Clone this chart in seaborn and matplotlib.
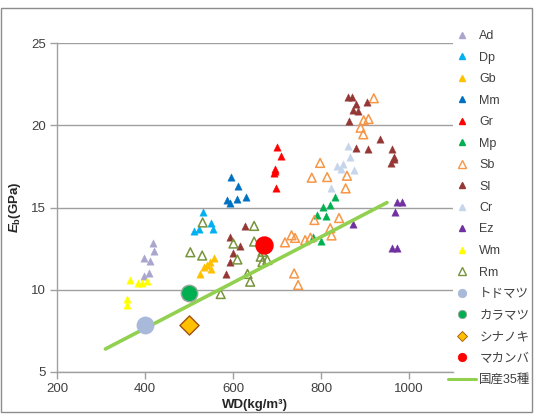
import matplotlib
matplotlib.use("Agg")
import matplotlib.pyplot as plt
import seaborn as sns
import pandas as pd
from matplotlib.lines import Line2D
from matplotlib.patches import Rectangle

# ---------------- data ----------------
ad_x = [418, 420, 398, 412, 408, 398]
ad_y = [12.84, 12.36, 11.93, 11.75, 11.02, 10.84]
dp_x = [531, 549, 554, 522, 512]
dp_y = [14.73, 14.06, 13.69, 13.69, 13.57]
gb_x = [556, 547, 540, 535, 551, 524]
gb_y = [11.93, 11.69, 11.50, 11.38, 11.26, 10.96]
mm_x = [596, 611, 630, 608, 587, 593]
mm_y = [16.84, 16.33, 15.64, 15.50, 15.44, 15.26]
gr_x = [701, 709, 696, 695, 693, 697]
gr_y = [18.66, 18.13, 17.34, 17.19, 17.08, 16.16]
mp_x = [832, 821, 804, 792, 812, 782, 801]
mp_y = [15.61, 15.15, 15.05, 14.57, 14.48, 13.21, 12.98]
sb_x = [920, 908, 897, 890, 896, 798, 779, 814, 859, 856, 841, 785, 821,
        824, 776, 764, 733, 741, 718, 739, 748]
sb_y = [21.64, 20.38, 20.30, 19.85, 19.45, 17.71, 16.81, 16.85, 16.93, 16.16,
        14.36, 14.24, 13.74, 13.30, 13.16, 13.02, 13.31, 13.15, 12.88, 10.99, 10.29]
sl_x = [861, 871, 880, 904, 873, 884, 863, 934, 880, 906, 961, 967, 966, 958,
        627, 593, 617, 600, 593, 585]
sl_y = [21.69, 21.72, 21.29, 21.41, 20.93, 20.87, 20.26, 19.16, 18.64, 18.56,
        18.54, 18.09, 17.95, 17.69, 13.88, 13.22, 12.66, 12.25, 11.69, 10.96]
cr_x = [861, 866, 849, 836, 846, 874, 823]
cr_y = [18.76, 18.07, 17.64, 17.52, 17.37, 17.28, 16.16]
ez_x = [973, 985, 969, 872, 961, 973]
ez_y = [15.32, 15.32, 14.73, 13.98, 12.54, 12.54]
wm_x = [365, 385, 393, 405, 359, 360]
wm_y = [10.59, 10.43, 10.44, 10.51, 9.42, 9.07]
rm_x = [531, 503, 530, 601, 648, 648, 610, 667, 663, 678, 667, 633, 639, 572]
rm_y = [14.09, 12.28, 12.08, 12.81, 13.88, 12.93, 11.84, 12.31, 12.01, 11.81,
        11.69, 10.96, 10.49, 9.74]

todomatsu = (400, 7.86)
karamatsu = (500, 9.80)
shinanoki = (500, 7.86)
makanba = (670, 12.72)

line_x = [310, 950]
line_y = [6.4, 15.3]

x_ticks = [200, 400, 600, 800, 1000]
y_ticks = [5, 10, 15, 20, 25]

# ---------------- style ----------------
sns.set_theme(style="white")
plt.rcParams["font.family"] = ["Liberation Sans", "Noto Sans CJK JP", "DejaVu Sans"]
plt.rcParams["mathtext.fontset"] = "custom"
plt.rcParams["mathtext.it"] = "Liberation Sans:italic:bold"
plt.rcParams["mathtext.rm"] = "Liberation Sans:bold"
plt.rcParams["mathtext.bf"] = "Liberation Sans:bold"

fig = plt.figure(figsize=(5.38, 4.17), dpi=100)
ax = fig.add_axes([57 / 538, 1 - 372 / 417, (453 - 57) / 538, (372 - 43) / 417])

tri_series = [
    ("Ad", ad_x, ad_y, "#A9A5CF", True),
    ("Dp", dp_x, dp_y, "#00B0F0", True),
    ("Gb", gb_x, gb_y, "#FFC000", True),
    ("Mm", mm_x, mm_y, "#0070C0", True),
    ("Gr", gr_x, gr_y, "#FF0000", True),
    ("Mp", mp_x, mp_y, "#00B050", True),
    ("Sb", sb_x, sb_y, "#F79646", False),
    ("Sl", sl_x, sl_y, "#953735", True),
    ("Cr", cr_x, cr_y, "#C5D5EC", True),
    ("Ez", ez_x, ez_y, "#7030A0", True),
    ("Wm", wm_x, wm_y, "#FFFF00", True),
    ("Rm", rm_x, rm_y, "#77933C", False),
]

for name, xs, ys, col, filled in tri_series:
    df = pd.DataFrame({"x": xs, "y": ys})
    if filled:
        sns.scatterplot(data=df, x="x", y="y", ax=ax, marker="^", s=28,
                        color=col, edgecolor=col, linewidth=0.3, zorder=3)
    else:
        sns.scatterplot(data=df, x="x", y="y", ax=ax, marker="^", s=40,
                        color=col, edgecolor=col, linewidth=1.1, zorder=3)
        coll = ax.collections[-1]
        coll.set_facecolor("none")
        coll.set_edgecolor(col)

sns.lineplot(x=line_x, y=line_y, ax=ax, color="#92D050", linewidth=2.6, zorder=4)

big = [
    (todomatsu, "o", "#A9B9DA", "#A9B9DA", 140),
    (karamatsu, "o", "#00B050", "#9AA59A", 140),
    (shinanoki, "D", "#FFC000", "#A0520C", 95),
    (makanba, "o", "#FF0000", "#FF0000", 150),
]
for (px, py), mk, fc, ec, s in big:
    sns.scatterplot(x=[px], y=[py], ax=ax, marker=mk, s=s, color=fc,
                    edgecolor=ec, linewidth=1.0, zorder=5)

ax.set_xlim(200, 1100)
ax.set_ylim(5, 25)
ax.set_xticks(x_ticks)
ax.set_yticks(y_ticks)
ax.yaxis.grid(True, color="#A0A0A0", linewidth=1.0)
ax.xaxis.grid(False)
ax.set_axisbelow(True)
for side in ["top", "right"]:
    ax.spines[side].set_visible(False)
for side in ["left", "bottom"]:
    ax.spines[side].set_color("#A0A0A0")
    ax.spines[side].set_linewidth(1.0)
ax.tick_params(axis="both", which="major", direction="out", length=5, width=1,
               color="#A0A0A0", labelsize=9.5, labelcolor="#404040", pad=3,
               left=True, bottom=True)

ax.set_xlabel("WD(kg/m³)", fontsize=9.5, fontweight="bold", labelpad=3)
ax.set_ylabel(r"$E_{\mathrm{b}}$(GPa)", fontsize=9.5, fontweight="bold", labelpad=6)

handles = []
labels = []
for name, xs, ys, col, filled in tri_series:
    if filled:
        h = Line2D([], [], linestyle="none", marker="^", markersize=5,
                   markerfacecolor=col, markeredgecolor=col)
    else:
        h = Line2D([], [], linestyle="none", marker="^", markersize=6,
                   markerfacecolor="none", markeredgecolor=col, markeredgewidth=1.0)
    handles.append(h)
    labels.append(name)
for (lbl, (p, mk, fc, ec, s)) in zip(["トドマツ", "カラマツ", "シナノキ", "マカンバ"], big):
    handles.append(Line2D([], [], linestyle="none", marker=mk,
                          markersize=6 if mk == "o" else 5,
                          markerfacecolor=fc, markeredgecolor=ec, markeredgewidth=0.6))
    labels.append(lbl)
handles.append(Line2D([], [], color="#92D050", linewidth=2.2))
labels.append("国産35種")

leg = fig.legend(handles, labels, loc="upper left",
                 bbox_to_anchor=(448 / 538, 1 - 30 / 417),
                 frameon=False, fontsize=9, handlelength=2.2,
                 handletextpad=0.3, labelspacing=0.76, borderaxespad=0,
                 borderpad=0)
for t in leg.get_texts():
    t.set_color("#404040")

fig.patches.append(Rectangle((1 / 538, 1 - 412 / 417), 531 / 538, 404 / 417,
                             transform=fig.transFigure, fill=False,
                             edgecolor="#8C8C8C", linewidth=1.0))

fig.savefig("out.png", dpi=100)
